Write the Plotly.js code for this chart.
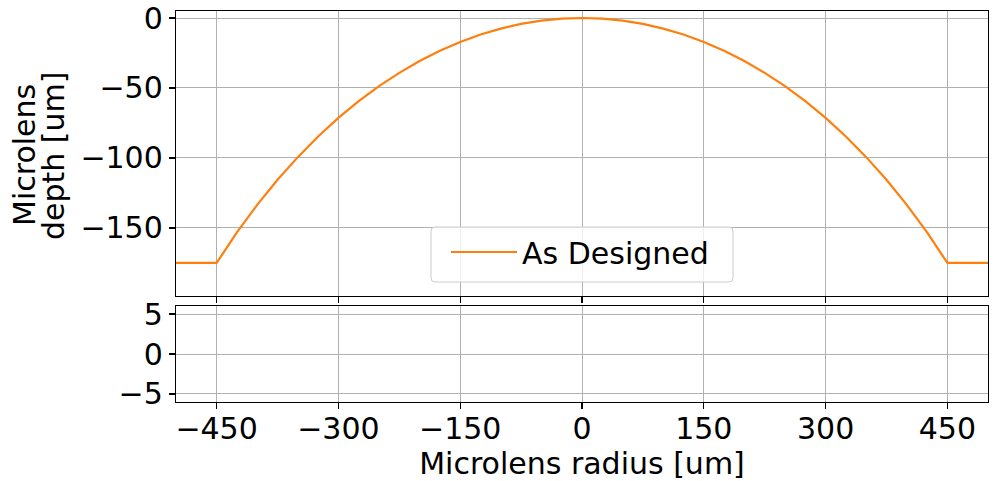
<!DOCTYPE html>
<html>
<head>
<meta charset="utf-8">
<script src="https://cdn.plot.ly/plotly-3.0.1.min.js"></script>
<style>html,body{margin:0;padding:0;background:#fff}#chart{width:1000px;height:481px}</style>
</head>
<body>
<div id="chart"></div>
<script>
// Microlens radius [um]
const radius = [-500, -475, -450, -425, -400, -375, -350, -325, -300, -275, -250, -225, -200, -175, -150, -125, -100, -75, -50, -25, 0,
                25, 50, 75, 100, 125, 150, 175, 200, 225, 250, 275, 300, 325, 350, 375, 400, 425, 450, 475, 500];
// Microlens depth [um], "As Designed" profile
const depth = [-175, -175, -175, -153.2, -133.5, -115.6, -99.4, -84.7, -71.4, -59.4, -48.7, -39.2, -30.7, -23.4, -17.1, -11.8, -7.6, -4.2, -1.9, -0.5, 0,
               -0.5, -1.9, -4.2, -7.6, -11.8, -17.1, -23.4, -30.7, -39.2, -48.7, -59.4, -71.4, -84.7, -99.4, -115.6, -133.5, -153.2, -175, -175, -175];
const seriesName = "As Designed";
// residual panel: no data drawn in the reference
const residX = [];
const residY = [];
const xTicks = [-450, -300, -150, 0, 150, 300, 450];
const yTicksTop = [0, -50, -100, -150];
const yTicksBottom = [-5, 0, 5];
const yTitleLines = ["Microlens", "depth [um]"];
const xTitle = "Microlens radius [um]";

const FONT = {family: "DejaVu Sans", size: 30, color: "#000"};
const axisCommon = {
  showline: true, linecolor: "#000", linewidth: 1.2, mirror: true,
  ticks: "outside", ticklen: 6, tickwidth: 1.2, tickcolor: "#000",
  showgrid: true, gridcolor: "#b0b0b0", gridwidth: 1, zeroline: false,
  tickfont: FONT
};

const traces = [
  {
    x: radius, y: depth, type: "scatter", mode: "lines", name: seriesName,
    line: {color: "#ff7f0e", width: 2.2}, xaxis: "x", yaxis: "y"
  },
  {
    x: residX, y: residY, type: "scatter", mode: "lines", name: "residual",
    showlegend: false, xaxis: "x2", yaxis: "y2", line: {color: "#1f77b4"}
  },
  {
    x: residX, y: residY, type: "scatter", mode: "lines", name: "tickmarks",
    showlegend: false, xaxis: "x3", yaxis: "y2", line: {color: "#1f77b4"}
  }
];

// pixel -> paper helpers (plot area: left 176, width 812, bottom 402, height 391)
const plotL = 176, plotW = 812, plotB = 402, plotH = 391;
const fx = px => (px - plotL) / plotW;
const fy = py => (plotB - py) / plotH;

// rounded legend frame (matplotlib style)
function roundRect(x0, y0, x1, y1, r) {
  const rx = r / plotW, ry = r / plotH;
  const X0 = fx(x0), X1 = fx(x1), Y0 = fy(y0), Y1 = fy(y1);
  return `M${X0 + rx},${Y0} H${X1 - rx} Q${X1},${Y0} ${X1},${Y0 - ry} V${Y1 + ry} Q${X1},${Y1} ${X1 - rx},${Y1} H${X0 + rx} Q${X0},${Y1} ${X0},${Y1 + ry} V${Y0 - ry} Q${X0},${Y0} ${X0 + rx},${Y0} Z`;
}

const layout = {
  width: 1000, height: 481,
  margin: {l: 176, r: 12, t: 11, b: 79},
  paper_bgcolor: "#fff", plot_bgcolor: "#fff",
  font: FONT,
  showlegend: true,
  legend: {
    x: fx(446), xanchor: "left", y: fy(278), yanchor: "bottom", yref: "paper",
    bgcolor: "rgba(0,0,0,0)", borderwidth: 0,
    font: FONT, itemwidth: 66
  },
  shapes: [{
    type: "path", xref: "paper", yref: "paper", layer: "above",
    path: roundRect(431, 227, 733, 282, 4),
    fillcolor: "rgba(255,255,255,0.8)", line: {color: "#cccccc", width: 1}
  }],
  annotations: [
    {text: yTitleLines[0], xref: "paper", yref: "paper", x: fx(24), y: fy(155),
     xanchor: "center", yanchor: "middle", textangle: -90, showarrow: false, font: FONT},
    {text: yTitleLines[1], xref: "paper", yref: "paper", x: fx(53), y: fy(155),
     xanchor: "center", yanchor: "middle", textangle: -90, showarrow: false, font: FONT}
  ],
  xaxis: Object.assign({}, axisCommon, {
    domain: [0, 1], anchor: "y", range: [-500, 500], tickvals: xTicks,
    showticklabels: false
  }),
  yaxis: Object.assign({}, axisCommon, {
    domain: [0.2711, 1], anchor: "x", range: [-198.6, 5], tickvals: yTicksTop
  }),
  // labelled bottom axis (tick marks drawn by xaxis3 so labels sit closer)
  xaxis2: Object.assign({}, axisCommon, {
    domain: [0, 1], anchor: "y2", range: [-500, 500], tickvals: xTicks,
    ticklen: 0,
    title: {text: xTitle, font: FONT, standoff: 10}
  }),
  xaxis3: {
    overlaying: "x2", anchor: "y2", side: "bottom", range: [-500, 500], tickvals: xTicks,
    ticks: "outside", ticklen: 6, tickwidth: 1.2, tickcolor: "#000",
    showticklabels: false, showgrid: false, showline: false, zeroline: false
  },
  yaxis2: Object.assign({}, axisCommon, {
    domain: [0, 0.2455], anchor: "x2", range: [-6, 6], tickvals: yTicksBottom
  })
};

Plotly.newPlot("chart", traces, layout, {displayModeBar: false, staticPlot: true});
</script>
</body>
</html>
